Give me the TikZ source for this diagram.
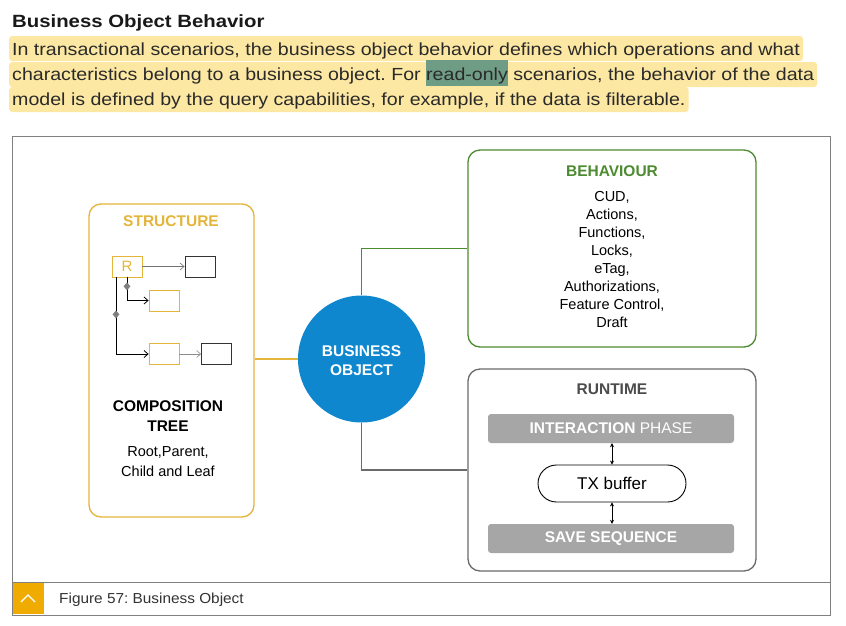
\documentclass[tikz,border=0pt]{standalone}
\usepackage{fontspec}
\setmainfont{Liberation Sans}
\newfontfamily\condfont[FakeStretch=1.12]{Liberation Sans}
\newfontfamily\headfont[FakeStretch=1.15]{Liberation Sans}
\newfontfamily\capfont[FakeStretch=1.06]{Liberation Sans}
\usetikzlibrary{arrows.meta,shapes.geometric,shapes.misc}
\definecolor{hl}{HTML}{FCE8A2}
\definecolor{hlro}{HTML}{6F9C85}
\definecolor{syel}{HTML}{E3B53A}
\definecolor{sgreen}{HTML}{4D8B31}
\definecolor{sgray}{HTML}{6B6B6B}
\definecolor{bblue}{HTML}{0F87CF}
\definecolor{barg}{HTML}{A6A6A6}
\definecolor{sap}{HTML}{F0AB00}
\definecolor{txt}{HTML}{2A2A2A}
\tikzset{
  paraline/.style={anchor=base west, fill=hl, inner xsep=3pt, inner ysep=0pt, rounded corners=3pt, font=\condfont\fontsize{17.5}{20}\selectfont, text=txt},
  bigbox/.style={draw, line width=1.3pt, rounded corners=12pt, minimum width=#1},
  treebox/.style={draw=syel, line width=0.8pt, minimum width=30pt, minimum height=21pt, inner sep=0pt},
  leafbox/.style={draw=black!80, line width=0.9pt, minimum width=30pt, minimum height=21pt, inner sep=0pt},
  barbox/.style={fill=barg, rounded corners=3pt, minimum width=246pt, minimum height=29pt, inner sep=0pt, text=white, font=\fontsize{15.5}{18}\selectfont},
  dmd/.style={diamond, fill=black!50, inner sep=0pt, minimum width=7pt, minimum height=8pt},
  treearr/.style={-{Straight Barb[length=4pt,width=7pt]}, line width=0.8pt},
  ttl/.style={font=\bfseries\fontsize{15.5}{18}\selectfont, inner sep=0pt},
  body/.style={font=\fontsize{14.5}{18}\selectfont, align=center, inner sep=0pt, text=black},
}
\begin{document}
\frenchspacing
\begin{tikzpicture}[x=1pt,y=-1pt]
\useasboundingbox (0,0) rectangle (846,625);
\fill[white] (0,0) rectangle (846,625);
% heading and paragraph
\node[anchor=base west, inner sep=0pt, font=\headfont\bfseries\fontsize{17.7}{22}\selectfont, text=black!90] (head) at (12,27) {Business Object Behavior};
\node[paraline, text height=19pt, text depth=6pt] (p1) at (9,55) {In transactional scenarios, the business object behavior defines which operations and what};
\node[paraline, text height=18pt, text depth=7pt] (p2) at (9,80) {characteristics belong to a business object. For {\setlength\fboxsep{0pt}\colorbox{hlro}{\rule[-6pt]{0pt}{26pt}read-only}} scenarios, the behavior of the data};
\node[paraline, text height=18pt, text depth=7pt] (p3) at (9,105) {model is defined by the query capabilities, for example, if the data is filterable.};
% figure frame
\draw[black!50, line width=0.8pt] (12,136) rectangle (830,615);
\draw[black!50, line width=0.8pt] (12,582) -- (830,582);
\node[fill=sap, minimum size=31pt, inner sep=0pt] (sq) at (28,598.5) {};
\draw[white, line width=1.2pt] ([shift={(-7,3.5)}]sq.center) -- ([shift={(0,-3.5)}]sq.center) -- ([shift={(7,3.5)}]sq.center);
\node[anchor=base west, inner sep=0pt, font=\capfont\fontsize{14.5}{16}\selectfont, text=black!80] (cap) at (59,603) {Figure 57: Business Object};
% structure
\node[bigbox=165pt, draw=syel, minimum height=313pt] (struct) at (171.5,360.5) {};
\node[ttl, text=syel, anchor=base] (stt) at (171,226) {STRUCTURE};
\node[treebox, text=syel, font=\fontsize{15}{16}\selectfont] (R) at (127,266.5) {R};
\node[leafbox] (RB) at (200,266.5) {};
\node[treebox] (C1) at (164,300.5) {};
\node[treebox] (C2) at (164,354) {};
\node[leafbox] (L) at (216.5,354) {};
\draw[treearr, black!55, line width=0.6pt] (R.east) -- (RB.west);
\draw[treearr, black!45, line width=0.6pt] (C2.east) -- (L.west);
\draw[treearr] (R.south) |- (C1.west);
\coordinate (Rb2) at ([xshift=-11pt]R.south);
\draw[treearr] (Rb2) |- (C2.west);
\node[dmd] (d1) at ([yshift=-9pt]R.south) {};
\node[dmd] (d2) at ([yshift=-37pt]Rb2) {};
\node[ttl, anchor=base, align=center, text=black] (ct) at (168,411) {COMPOSITION};
\node[ttl, anchor=base, text=black] (ct2) at (168,431) {TREE};
\node[body, anchor=base] (rp) at (168,456) {Root,Parent,};
\node[body, anchor=base] (cl) at (168,476) {Child and Leaf};
% business object
\node[circle, fill=bblue, minimum size=127pt, inner sep=0pt] (bo) at (361.5,359) {};
\node[ttl, text=white, anchor=base] (bo1) at (361.5,356) {BUSINESS};
\node[ttl, text=white, anchor=base] (bo2) at (361.5,375.5) {OBJECT};
% behaviour
\node[bigbox=288pt, draw=sgreen, minimum height=197pt] (beh) at (612,248.5) {};
\node[ttl, text=sgreen, anchor=base] (bt) at (612,176) {BEHAVIOUR};
\node[body, anchor=north] (bl) at (612,191) {CUD,\\Actions,\\Functions,\\Locks,\\eTag,\\Authorizations,\\Feature Control,\\Draft};
% runtime
\node[bigbox=288pt, draw=sgray, minimum height=202pt] (run) at (612,470) {};
\node[ttl, text=black!70, anchor=base] (rt) at (612,394.5) {RUNTIME};
\node[barbox] (ia) at (611,428.5) {\textbf{INTERACTION} PHASE};
\node[rounded rectangle, draw=black, line width=0.9pt, minimum width=148pt, minimum height=37pt, inner sep=0pt, font=\fontsize{17}{18}\selectfont] (tx) at (612,483.5) {TX buffer};
\node[barbox, font=\bfseries\fontsize{15.5}{18}\selectfont] (sv) at (611,538.5) {SAVE SEQUENCE};
\draw[{Stealth[length=4pt,width=4pt]}-{Stealth[length=4pt,width=4pt]}, line width=0.8pt] (ia.south -| tx.north) -- (tx.north);
\draw[{Stealth[length=4pt,width=4pt]}-{Stealth[length=4pt,width=4pt]}, line width=0.8pt] (tx.south) -- (sv.north -| tx.south);
% connectors
\draw[syel, line width=1.2pt] (bo.west) -- (bo.west -| struct.east);
\draw[sgreen, line width=1.2pt] (bo.north) |- (beh.west);
\draw[sgray, line width=1.2pt] (bo.south) |- (run.west);
\end{tikzpicture}
\end{document}
